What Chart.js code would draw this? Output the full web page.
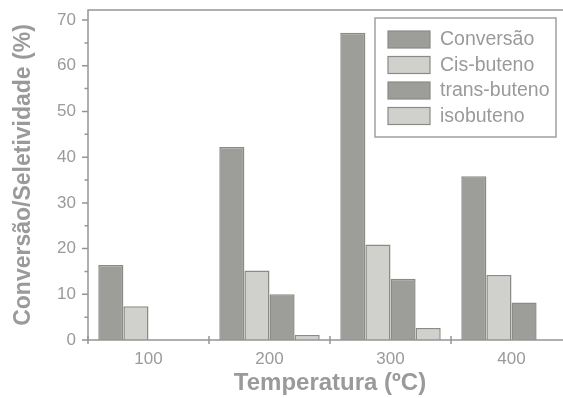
<!DOCTYPE html>
<html>
<head>
<meta charset="utf-8">
<script src="https://cdn.jsdelivr.net/npm/chart.js@4/dist/chart.umd.min.js"></script>
<style>
  html, body { margin: 0; padding: 0; background: #fff; overflow: hidden; }
  #wrap { width: 572px; height: 398px; }
</style>
</head>
<body>
<div id="wrap"><canvas id="chart" width="572" height="398"></canvas></div>
<script>
// Data
const temperatures = ['100', '200', '300', '400'];
const conversao = [16.4, 42.2, 67.2, 35.8];
const cisButeno = [7.4, 15.2, 20.9, 14.2];
const transButeno = [null, 10.0, 13.4, 8.2];
const isobuteno = [null, 1.1, 2.6, null];
const yTickValues = [0, 10, 20, 30, 40, 50, 60, 70];
const yMinorValues = [5, 15, 25, 35, 45, 55, 65];

const FONT = '"Liberation Sans", Arial, sans-serif';
const TEXT = '#9a9a9a';
const AXIS = '#959595';
const DARK = '#9d9d99';
const LIGHT = '#d0d1cd';
const EDGE = '#8a8a86';

// frame, tick marks and legend box
const decorations = {
  id: 'decorations',
  afterDatasetsDraw(chart) {
    const { ctx, chartArea: a, scales: { x, y } } = chart;
    ctx.save();
    ctx.strokeStyle = AXIS;
    ctx.lineWidth = 1.5;
    ctx.beginPath();
    ctx.moveTo(a.right + 10, a.top);
    ctx.lineTo(a.left, a.top);
    ctx.lineTo(a.left, a.bottom);
    ctx.lineTo(a.right + 10, a.bottom);
    ctx.stroke();

    // y ticks
    ctx.beginPath();
    yTickValues.forEach(v => {
      const py = y.getPixelForValue(v);
      ctx.moveTo(a.left - 6, py);
      ctx.lineTo(a.left, py);
    });
    yMinorValues.forEach(v => {
      const py = y.getPixelForValue(v);
      ctx.moveTo(a.left - 3.5, py);
      ctx.lineTo(a.left, py);
    });
    // x ticks on category boundaries
    const half = (x.getPixelForValue(1) - x.getPixelForValue(0)) / 2;
    temperatures.forEach((t, i) => {
      const px = x.getPixelForValue(i) - half;
      ctx.moveTo(px, a.bottom - 4);
      ctx.lineTo(px, a.bottom + 4);
    });
    ctx.stroke();

    // legend
    const bx = 375, by = 18, bw = 181, bh = 119;
    ctx.strokeStyle = '#a0a0a0';
    ctx.lineWidth = 1.5;
    ctx.fillStyle = '#fff';
    ctx.fillRect(bx, by, bw, bh);
    ctx.strokeRect(bx, by, bw, bh);
    ctx.font = '19.5px ' + FONT;
    ctx.textBaseline = 'middle';
    chart.data.datasets.forEach((ds, i) => {
      const ry = 31 + i * 25.5;
      ctx.fillStyle = ds.backgroundColor;
      ctx.fillRect(388, ry, 42, 17);
      ctx.strokeStyle = EDGE;
      ctx.lineWidth = 1.2;
      ctx.strokeRect(388, ry, 42, 17);
      ctx.fillStyle = TEXT;
      ctx.fillText(ds.label, 440, ry + 9);
    });
    ctx.restore();
  }
};

const barStyle = { borderColor: EDGE, borderWidth: 1.5, borderSkipped: 'bottom' };

new Chart(document.getElementById('chart'), {
  type: 'bar',
  data: {
    labels: temperatures,
    datasets: [
      { label: 'Conversão', data: conversao, backgroundColor: DARK, ...barStyle },
      { label: 'Cis-buteno', data: cisButeno, backgroundColor: LIGHT, ...barStyle },
      { label: 'trans-buteno', data: transButeno, backgroundColor: DARK, ...barStyle },
      { label: 'isobuteno', data: isobuteno, backgroundColor: LIGHT, ...barStyle }
    ]
  },
  options: {
    responsive: false,
    animation: false,
    layout: { padding: { top: 10, right: 0, left: 0, bottom: 0 } },
    plugins: { legend: { display: false }, tooltip: { enabled: false } },
    datasets: { bar: { categoryPercentage: 0.83, barPercentage: 1 } },
    scales: {
      x: {
        grid: { display: false },
        border: { display: false },
        ticks: { color: TEXT, font: { family: FONT, size: 17 }, padding: 1 },
        title: {
          display: true, text: 'Temperatura (ºC)', color: TEXT,
          font: { family: FONT, size: 24, weight: 'bold' }, padding: { top: 0, bottom: 0 }
        },
        afterFit(scale) {
          scale.height = 58;
          scale.paddingLeft = 0;
          scale.paddingRight = 0;
        }
      },
      y: {
        min: 0,
        max: 72.2,
        grid: { display: false },
        border: { display: false },
        afterBuildTicks(scale) { scale.ticks = yTickValues.map(v => ({ value: v })); },
        ticks: { color: TEXT, font: { family: FONT, size: 17 }, padding: 4 },
        title: {
          display: true, text: 'Conversão/Seletividade (%)', color: TEXT,
          font: { family: FONT, size: 23, weight: 'bold' }, padding: { top: 10, bottom: 0 }
        },
        afterFit(scale) {
          scale.width = 88;
          scale.paddingTop = 0;
          scale.paddingBottom = 0;
        }
      }
    }
  },
  plugins: [decorations]
});
</script>
</body>
</html>
